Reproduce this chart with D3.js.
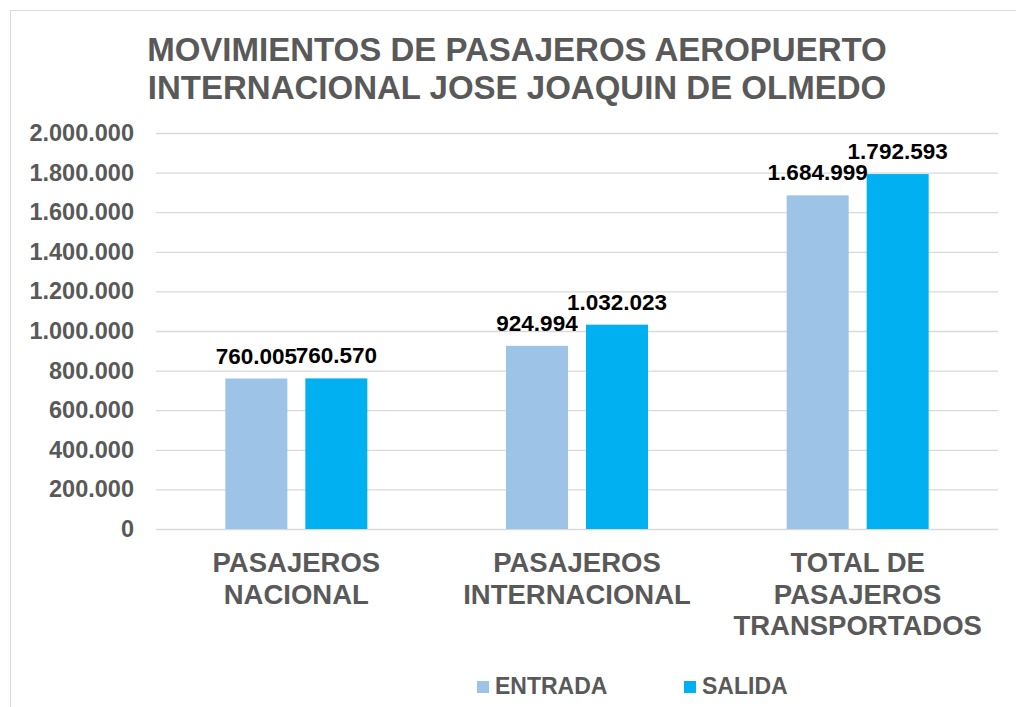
<!DOCTYPE html>
<html>
<head>
<meta charset="utf-8">
<script src="https://cdn.jsdelivr.net/npm/d3@7"></script>
<style>
  body { margin: 0; background: #fff; }
  svg { font-family: "Liberation Sans", Arial, sans-serif; }
</style>
</head>
<body>
<svg id="chart" width="1016" height="707"></svg>
<script>
var categories = [["PASAJEROS", "NACIONAL"], ["PASAJEROS", "INTERNACIONAL"], ["TOTAL DE", "PASAJEROS", "TRANSPORTADOS"]];
var series = ["ENTRADA", "SALIDA"];
var entrada = [760005, 924994, 1684999];
var salida = [760570, 1032023, 1792593];
var colors = ["#9DC3E6", "#00B0F0"];
var yTicks = [0, 200000, 400000, 600000, 800000, 1000000, 1200000, 1400000, 1600000, 1800000, 2000000];
var titleLines = ["MOVIMIENTOS DE PASAJEROS AEROPUERTO", "INTERNACIONAL JOSE JOAQUIN DE OLMEDO"];

var svg = d3.select("#chart");
var margin = {left: 156, right: 18, top: 133, bottom: 178};
var width = 1016, height = 707;
var fmt = d3.formatLocale({decimal: ",", thousands: ".", grouping: [3], currency: ["", ""]}).format(",d");

// chart border
svg.append("rect").attr("x", 10.5).attr("y", 10.5).attr("width", 1020).attr("height", 720)
    .attr("fill", "#fff").attr("stroke", "#d9d9d9");

svg.append("text").attr("text-anchor", "middle").attr("fill", "#595959")
    .style("font-size", "33px").style("font-weight", "bold")
  .selectAll("tspan").data(titleLines).enter().append("tspan")
    .attr("x", 517).attr("y", function(d, i) { return 61 + i * 38; })
    .text(function(d) { return d; });

var x0 = d3.scaleBand().domain(d3.range(categories.length))
    .range([margin.left, width - margin.right]).paddingInner(0).paddingOuter(0);
var x1 = d3.scaleBand().domain(series).range([x0.bandwidth() / 2 - 71, x0.bandwidth() / 2 + 71]).paddingInner(0.225);
var y = d3.scaleLinear().domain([0, 2000000]).range([height - margin.bottom, margin.top]);

var yAxis = d3.axisLeft(y).tickValues(yTicks).tickSize(-(width - margin.left - margin.right)).tickFormat(fmt).tickPadding(22);
var gy = svg.append("g").attr("transform", "translate(" + margin.left + ",0)").call(yAxis);
gy.select(".domain").remove();
gy.selectAll(".tick line").attr("stroke", "#d9d9d9").attr("stroke-width", 1.3);
gy.selectAll(".tick text").attr("fill", "#595959").style("font-size", "23.5px").style("font-weight", "bold")
    .style("font-family", "Liberation Sans, Arial, sans-serif");

var rows = categories.map(function(c, i) { return {i: i, values: [entrada[i], salida[i]]}; });
var groups = svg.append("g").selectAll("g").data(rows).enter().append("g")
    .attr("transform", function(d) { return "translate(" + x0(d.i) + ",0)"; });

groups.selectAll("rect").data(function(d) { return d.values.map(function(v, j) { return {v: v, s: series[j], j: j}; }); })
  .enter().append("rect")
    .attr("x", function(d) { return x1(d.s); })
    .attr("width", x1.bandwidth())
    .attr("y", function(d) { return y(d.v); })
    .attr("height", function(d) { return y(0) - y(d.v); })
    .attr("fill", function(d) { return colors[d.j]; });

groups.selectAll("text.lbl").data(function(d) { return d.values.map(function(v, j) { return {v: v, s: series[j]}; }); })
  .enter().append("text").attr("class", "lbl")
    .attr("x", function(d) { return x1(d.s) + x1.bandwidth() / 2; })
    .attr("y", function(d) { return y(d.v) - 15; })
    .attr("text-anchor", "middle").attr("fill", "#000")
    .style("font-size", "22.5px").style("font-weight", "bold")
    .text(function(d) { return fmt(d.v); });

// category labels
svg.append("g").selectAll("text").data(categories).enter().append("text")
    .attr("text-anchor", "middle").attr("fill", "#595959")
    .style("font-size", "27.5px").style("font-weight", "bold")
    .each(function(d, i) {
      d3.select(this).selectAll("tspan").data(d).enter().append("tspan")
        .attr("x", x0(i) + x0.bandwidth() / 2)
        .attr("y", function(t, k) { return 572 + k * 31.5; })
        .text(function(t) { return t; });
    });

// legend
var legX = [477, 684];
var leg = svg.append("g").selectAll("g").data(series).enter().append("g")
    .attr("transform", function(d, i) { return "translate(" + legX[i] + ",681)"; });
leg.append("rect").attr("width", 12).attr("height", 12).attr("fill", function(d, i) { return colors[i]; });
leg.append("text").attr("x", 18).attr("y", 12.5).attr("fill", "#595959")
    .style("font-size", "23px").style("font-weight", "bold")
    .text(function(d) { return d; });
</script>
</body>
</html>
